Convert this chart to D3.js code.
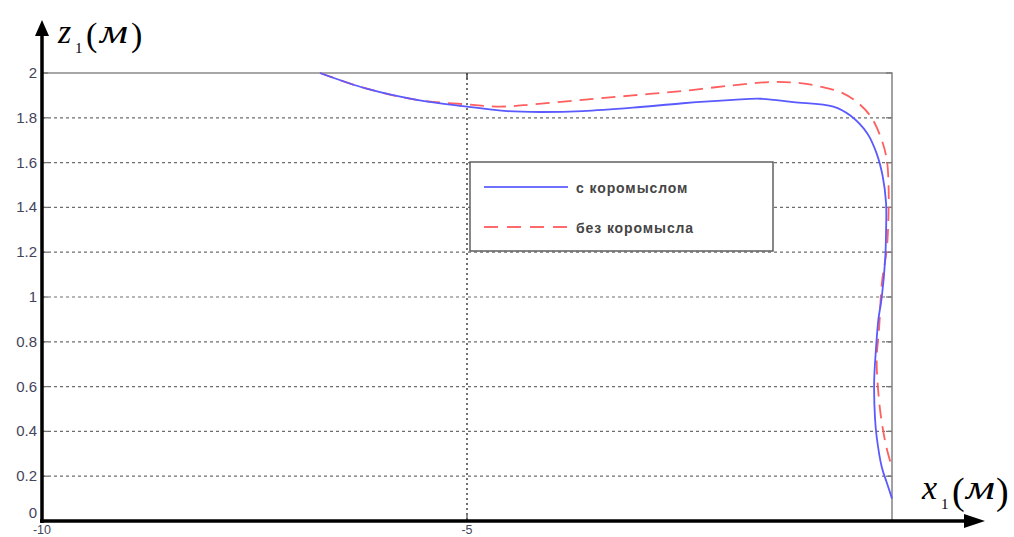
<!DOCTYPE html>
<html>
<head>
<meta charset="utf-8">
<script src="https://cdn.jsdelivr.net/npm/d3@7"></script>
<style>
  html, body { margin: 0; padding: 0; background: #fff; }
  svg { display: block; }
</style>
</head>
<body>
<svg id="chart" width="1014" height="537"></svg>
<script>
// Trajectory of the point in the x1–z1 plane (metres)
const withRockerX = [-6.73, -6.18, -5.59, -5.00, -4.53, -4.14, -3.64, -3.05, -2.46, -1.87, -1.55, -1.16, -0.69, -0.49, -0.29, -0.18, -0.11, -0.07, -0.07, -0.08, -0.12, -0.16, -0.19, -0.21, -0.20, -0.18, -0.12, -0.06, 0.00];
const withRockerZ = [2.00, 1.93, 1.88, 1.85, 1.83, 1.826, 1.83, 1.845, 1.865, 1.88, 1.885, 1.87, 1.85, 1.81, 1.73, 1.64, 1.54, 1.42, 1.29, 1.17, 1.00, 0.90, 0.76, 0.62, 0.46, 0.375, 0.24, 0.17, 0.10];

const noRockerX = [-6.73, -6.18, -5.59, -5.00, -4.61, -4.22, -3.64, -3.05, -2.46, -1.87, -1.40, -1.08, -0.85, -0.58, -0.38, -0.24, -0.12, -0.06, -0.04, -0.04, -0.06, -0.12, -0.15, -0.18, -0.16, -0.12, -0.06, 0.00];
const noRockerZ = [2.00, 1.93, 1.88, 1.86, 1.85, 1.86, 1.88, 1.90, 1.92, 1.945, 1.96, 1.955, 1.94, 1.91, 1.86, 1.80, 1.70, 1.61, 1.49, 1.39, 1.22, 1.06, 0.87, 0.72, 0.57, 0.44, 0.32, 0.24];

const seriesNames = ["с коромыслом", "без коромысла"];
const xTicks = [-10, -5];
const yTicks = [0, 0.2, 0.4, 0.6, 0.8, 1, 1.2, 1.4, 1.6, 1.8, 2];

const svg = d3.select("#chart");
const pLeft = 42, pRight = 892, pTop = 73, pBottom = 521;

const x = d3.scaleLinear().domain([-10, 0]).range([pLeft, pRight]);
const y = d3.scaleLinear().domain([0, 2]).range([pBottom, pTop]);

const tickColor = "#44445a";
const font = "'Liberation Sans', Arial, sans-serif";
const serif = "'Liberation Serif', 'Times New Roman', serif";

// horizontal dashed grid
svg.append("g").selectAll("line").data(yTicks.filter(d => d > 0 && d < 2)).join("line")
  .attr("x1", pLeft).attr("x2", pRight)
  .attr("y1", d => y(d)).attr("y2", d => y(d))
  .attr("stroke", "#6e6e6e").attr("stroke-width", 1.2)
  .attr("stroke-dasharray", "3,3");

// vertical dotted grid at x = -5
svg.append("line")
  .attr("x1", x(-5)).attr("x2", x(-5)).attr("y1", pTop).attr("y2", pBottom)
  .attr("stroke", "#444").attr("stroke-width", 1.5)
  .attr("stroke-dasharray", "2,3");

// top and right frame
svg.append("path")
  .attr("d", `M${pLeft},${pTop}H${pRight}V${pBottom}`)
  .attr("fill", "none").attr("stroke", "#8a8a8a").attr("stroke-width", 1.6);

// tick marks on left and right sides
const yTickLines = svg.append("g");
yTicks.forEach(d => {
  yTickLines.append("line").attr("x1", pLeft).attr("x2", pLeft + 6)
    .attr("y1", y(d)).attr("y2", y(d)).attr("stroke", "#777").attr("stroke-width", 1.3);
  yTickLines.append("line").attr("x1", pRight - 6).attr("x2", pRight)
    .attr("y1", y(d)).attr("y2", y(d)).attr("stroke", "#777").attr("stroke-width", 1.3);
});
svg.append("line").attr("x1", x(-5)).attr("x2", x(-5)).attr("y1", pTop).attr("y2", pTop + 6)
  .attr("stroke", "#444").attr("stroke-width", 1.5);
svg.append("line").attr("x1", x(-5)).attr("x2", x(-5)).attr("y1", pBottom - 6).attr("y2", pBottom)
  .attr("stroke", "#555").attr("stroke-width", 1.3);

// y tick labels
svg.append("g").selectAll("text").data(yTicks).join("text")
  .attr("x", 37).attr("y", d => y(d) + (d === 0 ? -3 : 5))
  .attr("text-anchor", "end")
  .attr("font-family", font).attr("font-size", 15)
  .attr("fill", tickColor)
  .text(d => d3.format("~g")(d));

// x tick labels
svg.append("g").selectAll("text").data(xTicks).join("text")
  .attr("x", d => x(d)).attr("y", 534)
  .attr("text-anchor", "middle")
  .attr("font-family", font).attr("font-size", 12.5)
  .attr("fill", tickColor)
  .text(d => d);

// trajectories
const line = d3.line().x(d => x(d[0])).y(d => y(d[1])).curve(d3.curveCatmullRom.alpha(0.5));
const blueData = d3.zip(withRockerX, withRockerZ);
const redData = d3.zip(noRockerX, noRockerZ);

svg.append("path").datum(redData)
  .attr("d", line).attr("fill", "none")
  .attr("stroke", "#ff5f5f").attr("stroke-width", 1.8)
  .attr("stroke-dasharray", "14,8");
svg.append("path").datum(blueData)
  .attr("d", line).attr("fill", "none")
  .attr("stroke", "#5a5aff").attr("stroke-width", 1.8);

// legend
const lg = svg.append("g");
lg.append("rect").attr("x", 470).attr("y", 162).attr("width", 303).attr("height", 89)
  .attr("fill", "#fff").attr("stroke", "#555").attr("stroke-width", 1.4);
lg.append("line").attr("x1", 484).attr("x2", 568).attr("y1", 187).attr("y2", 187)
  .attr("stroke", "#7070ff").attr("stroke-width", 1.8);
lg.append("line").attr("x1", 484).attr("x2", 568).attr("y1", 227).attr("y2", 227)
  .attr("stroke", "#ff6a6a").attr("stroke-width", 1.8).attr("stroke-dasharray", "14,9");
lg.selectAll("text").data(seriesNames).join("text")
  .attr("x", 576).attr("y", (d, i) => 193 + i * 40)
  .attr("font-family", font).attr("font-size", 14).attr("font-weight", "bold")
  .attr("letter-spacing", 0.9)
  .attr("fill", "#454545")
  .text(d => d);

// axes with arrows
svg.append("line").attr("x1", pLeft).attr("x2", pLeft).attr("y1", pBottom + 2).attr("y2", 34)
  .attr("stroke", "#000").attr("stroke-width", 3.5);
svg.append("path").attr("d", `M${pLeft},20L${pLeft - 7},36L${pLeft + 7},36Z`).attr("fill", "#000");
svg.append("line").attr("x1", pLeft - 2).attr("x2", 966).attr("y1", pBottom).attr("y2", pBottom)
  .attr("stroke", "#000").attr("stroke-width", 3.5);
svg.append("path").attr("d", `M985,${pBottom}L964,${pBottom - 7}L964,${pBottom + 7}Z`).attr("fill", "#000");

// axis titles: italic variable, subscript 1, unit in parentheses
function axisTitle(o) {
  const g = svg.append("g").attr("font-family", serif).attr("fill", "#000");
  g.append("text").attr("x", o.x).attr("y", o.base)
    .attr("font-size", o.size).attr("font-style", "italic").text(o.letter);
  g.append("text").attr("x", o.subX).attr("y", o.base + 10)
    .attr("font-size", 15).text("1");
  g.append("text").attr("x", o.lp).attr("y", o.base + o.parDy)
    .attr("font-size", o.parSize).text("(");
  g.append("text").attr("x", o.mX).attr("y", o.base)
    .attr("font-size", o.size).attr("font-style", "italic")
    .attr("textLength", o.mW).attr("lengthAdjust", "spacingAndGlyphs").text("м");
  g.append("text").attr("x", o.rp).attr("y", o.base + o.parDy)
    .attr("font-size", o.parSize).text(")");
}
axisTitle({ letter: "z", x: 58, base: 43, size: 34, subX: 75, lp: 86, mX: 100, mW: 28, rp: 131, parSize: 34, parDy: 3 });
axisTitle({ letter: "x", x: 922, base: 499, size: 34, subX: 941, lp: 952, mX: 966, mW: 29, rp: 996, parSize: 38, parDy: 5 });
</script>
</body>
</html>
